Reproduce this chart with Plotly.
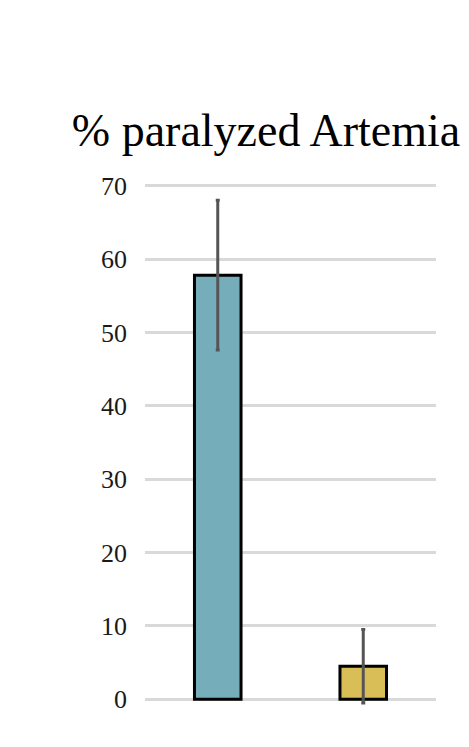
import plotly.graph_objects as go

# data
groups = ["A", "B"]
paralyzed = [57.8, 4.5]
errors = [10.2, 5.0]
bar_colors = ["#75AEBA", "#D9BD57"]
y_ticks = [0, 10, 20, 30, 40, 50, 60, 70]

# page body adds an 8px offset, so the figure is drawn a bit smaller
W, H = 461, 731

fig = go.Figure()

fig.add_bar(
    x=groups,
    y=paralyzed,
    marker=dict(color=bar_colors, line=dict(color="black", width=3)),
    error_y=dict(type="data", array=errors, visible=True,
                 color="#555555", thickness=3, width=2),
    width=0.32,
)

fig.update_layout(
    width=W,
    height=H,
    paper_bgcolor="white",
    plot_bgcolor="white",
    showlegend=False,
    margin=dict(l=137, r=33, t=174, b=25),
    title=dict(
        text="% paralyzed Artemia",
        font=dict(family="Liberation Serif", size=46, color="black"),
        xref="container", x=258 / W, xanchor="center",
        yref="container", y=1 - 122 / H, yanchor="middle",
    ),
    font=dict(family="Liberation Serif", size=26, color="#1a1a1a"),
)

fig.update_xaxes(showticklabels=False, showgrid=False, zeroline=False,
                 showline=False, ticks="")
fig.update_yaxes(range=[-2, 70.5], tickvals=y_ticks, showgrid=True,
                 gridcolor="#D9D9D9", gridwidth=2.5, zeroline=True,
                 zerolinecolor="#D9D9D9", zerolinewidth=2.5,
                 showline=False, ticklabelstandoff=17)

fig.write_html("out.html")
